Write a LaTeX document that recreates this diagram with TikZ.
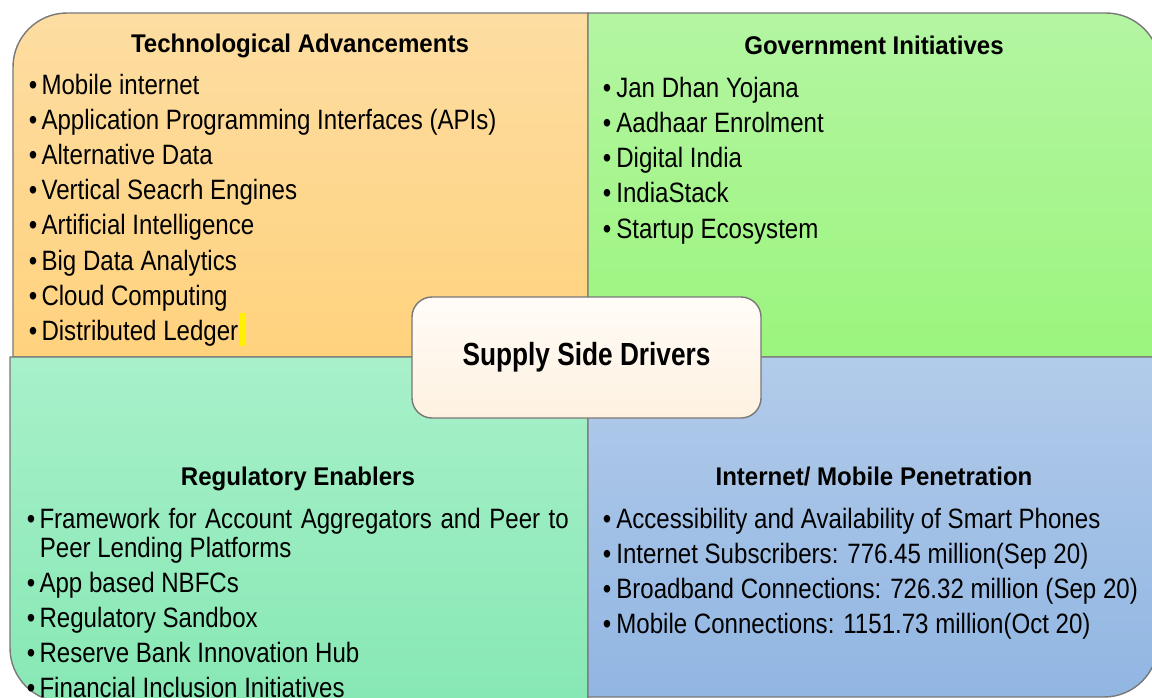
\documentclass[tikz,border=0pt]{standalone}
\usepackage{fontspec}
\setmainfont[FakeStretch=0.86]{Liberation Sans}
\newfontfamily\headfont[FakeStretch=0.94]{Liberation Sans}
\newfontfamily\hubfont[FakeStretch=0.82]{Liberation Sans}
\definecolor{edgegray}{RGB}{120,120,120}
\definecolor{techtop}{RGB}{253,221,162}
\definecolor{techbot}{RGB}{255,210,125}
\definecolor{govtop}{RGB}{180,245,162}
\definecolor{govbot}{RGB}{155,245,125}
\definecolor{regtop}{RGB}{168,240,202}
\definecolor{regbot}{RGB}{135,232,180}
\definecolor{nettop}{RGB}{178,203,234}
\definecolor{netbot}{RGB}{145,182,226}
\definecolor{hubtop}{RGB}{255,252,247}
\definecolor{hubbot}{RGB}{254,241,224}

\begin{document}
\begin{tikzpicture}[x=0.5pt,y=-0.5pt]
\tikzset{pane/.style={draw=edgegray, line width=0.7pt},
  item/.style={anchor=base west, inner sep=0pt, font=\fontsize{14}{16}\selectfont},
  head/.style={anchor=base, inner sep=0pt, font=\headfont\bfseries\fontsize{12.8}{15}\selectfont},
  hub/.style={draw=edgegray, line width=0.7pt, rounded corners=10pt, top color=hubtop, bottom color=hubbot,
    minimum width=174.5pt, minimum height=60.5pt, font=\hubfont\bfseries\fontsize{16}{18}\selectfont}}
\useasboundingbox (0,0) rectangle (1152,697);
\clip (0,0) rectangle (1152,697);
% the four panes
\path[pane, top color=techtop, bottom color=techbot] (13,357) [rounded corners=27pt] -- (13,13) [sharp corners] -- (588,13) -- (588,357) -- cycle;
\path[pane, top color=govtop, bottom color=govbot] (588,357) -- (588,13) [rounded corners=27pt] -- (1160,13) [sharp corners] -- (1160,357) -- cycle;
\path[pane, top color=regtop, bottom color=regbot] (588,357) -- (10,357) [rounded corners=27pt] -- (10,702) [sharp corners] -- (588,702) -- cycle;
\path[pane, top color=nettop, bottom color=netbot] (588,357) -- (1158,357) [rounded corners=27pt] -- (1158,697) [sharp corners] -- (588,697) -- cycle;
% titles
\node[head] (techhead) at (300,52) {Technological Advancements};
\node[head] (govhead) at (874,54) {Government Initiatives};
\node[head] (reghead) at (298,485) {Regulatory Enablers};
\node[head] (nethead) at (874,485) {Internet/ Mobile Penetration};
% bullet lists
\foreach \txt [count=\i] in {Mobile internet, Application Programming Interfaces (APIs), Alternative Data,
  Vertical Seacrh Engines, Artificial Intelligence, Big Data Analytics, Cloud Computing, Distributed Ledger}
  \node[item] (tech\i) at (28.5,{94+35.2*(\i-1)}) {•\hspace{2.1pt}\txt};
\node[fill=yellow, inner sep=0pt, minimum width=3.5pt, minimum height=16.5pt, anchor=south west] (mark)
  at ([yshift=-3pt]tech8.base east) {};
\foreach \txt [count=\i] in {Jan Dhan Yojana, Aadhaar Enrolment, Digital India, IndiaStack, Startup Ecosystem}
  \node[item] (gov\i) at (602.5,{97+35.25*(\i-1)}) {•\hspace{2.5pt}\txt};
\node[item] (reg1) at (26.5,528) {\makebox[271pt][s]{•\hspace{2.1pt}Framework for Account Aggregators and Peer to}};
\node[item] (reg1b) at (39.4,557) {Peer Lending Platforms};
\foreach \txt [count=\i from 2] in {App based NBFCs, Regulatory Sandbox, Reserve Bank Innovation Hub,
  Financial Inclusion Initiatives}
  \node[item] (reg\i) at (26.5,{592+35.3*(\i-2)}) {•\hspace{2.1pt}\txt};
\foreach \txt [count=\i] in {Accessibility and Availability of Smart Phones, Internet Subscribers: 776.45 million(Sep 20),
  Broadband Connections: 726.32 million (Sep 20), Mobile Connections: 1151.73 million(Oct 20)}
  \node[item] (net\i) at (602.5,{528+35*(\i-1)}) {•\hspace{2.5pt}\txt};
% centre box
\node[hub] (hub) at (586.5,357.5) {Supply Side Drivers};
\end{tikzpicture}
\end{document}
